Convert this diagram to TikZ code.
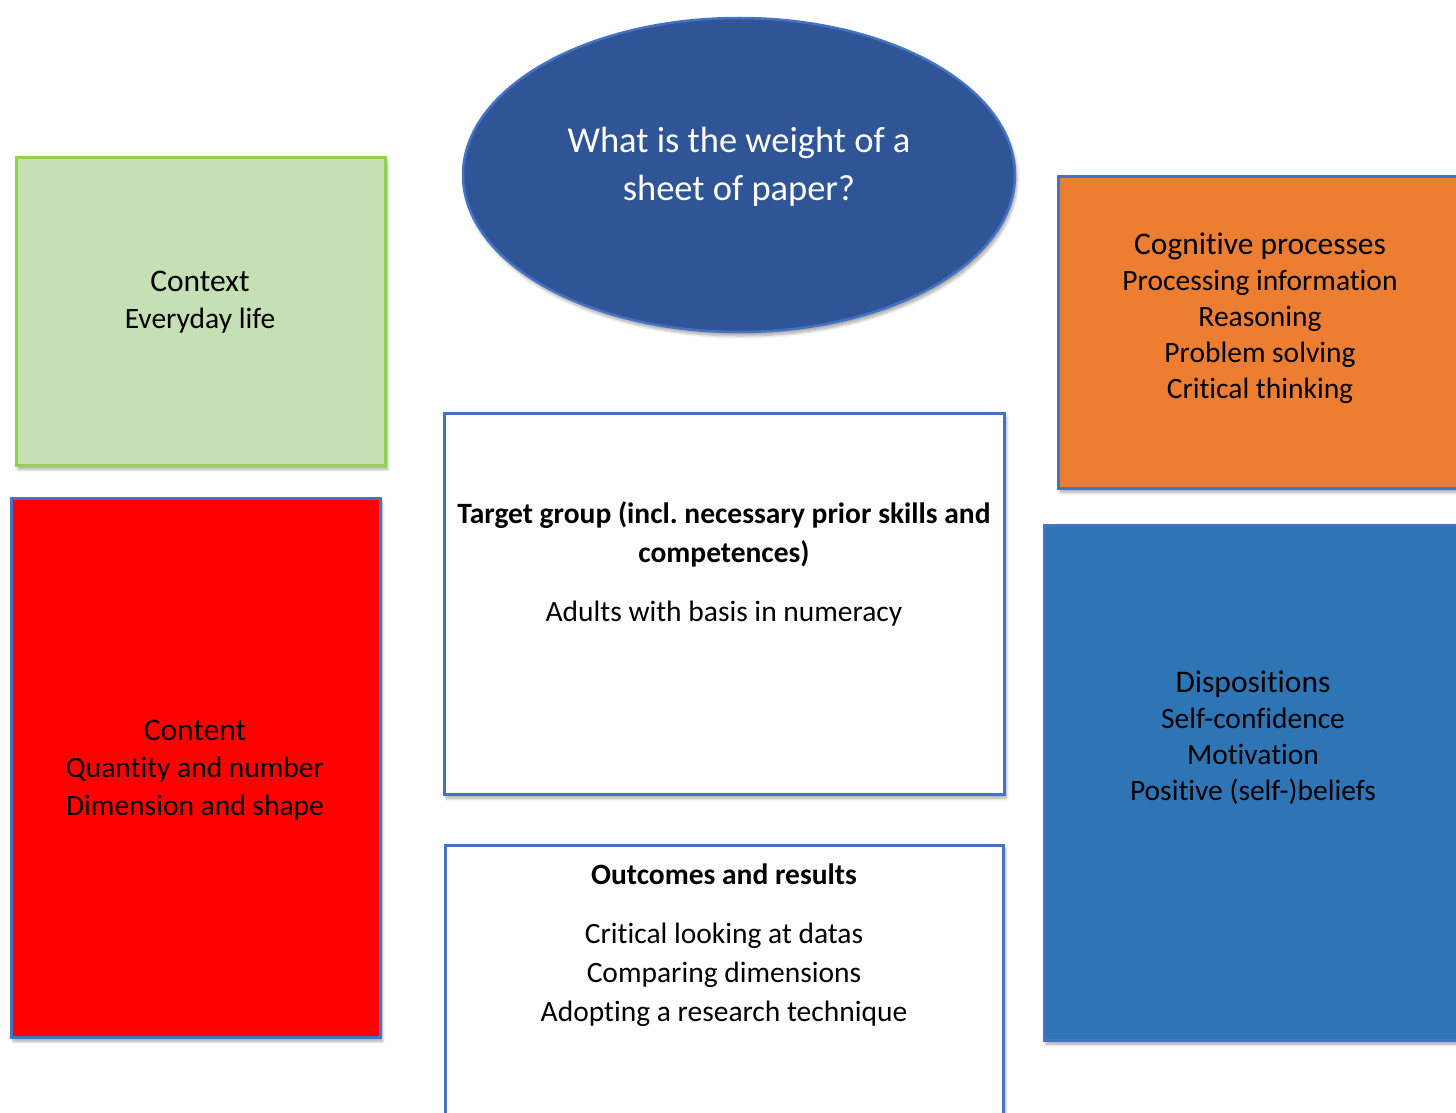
\documentclass[tikz,border=0pt]{standalone}
\usepackage{fontspec}
\setmainfont{Carlito}[Ligatures={NoCommon}]
\usetikzlibrary{shapes.geometric,shadows.blur}
\definecolor{bordblue}{HTML}{4472C4}
\definecolor{greenfill}{HTML}{C5E0B4}
\definecolor{greenbord}{HTML}{92D050}
\definecolor{ellfill}{HTML}{2F5597}
\definecolor{orangefill}{HTML}{ED7D31}
\definecolor{bluefill}{HTML}{2E75B6}
\tikzset{
  box/.style={draw=bordblue, line width=2.5pt, rectangle, anchor=north west, inner sep=0pt,
    blur shadow={shadow xshift=2pt, shadow yshift=-4pt, shadow blur steps=6, shadow opacity=35, shadow blur radius=3pt}},
  head/.style={font=\fontsize{31.5}{38}\selectfont, anchor=mid, inner sep=0pt},
  body/.style={font=\fontsize{29.5}{36}\selectfont, anchor=mid, inner sep=0pt},
  bbody/.style={font=\fontsize{29.5}{36}\selectfont\bfseries, anchor=mid, inner sep=0pt},
  etext/.style={font=\fontsize{36.5}{44}\selectfont, text=white, anchor=mid, inner sep=0pt}
}
\frenchspacing
\begin{document}
\begin{tikzpicture}[x=1pt,y=-1pt]
\useasboundingbox (0,0) rectangle (1456,1113);
\clip (0,0) rectangle (1456,1113);
% boxes
\node[box, draw=greenbord, fill=greenfill, minimum width=369pt, minimum height=308pt] (context) at (15,156) {};
\node[box, fill=red, minimum width=369pt, minimum height=539pt] (content) at (10,497) {};
\node[box, fill=orangefill, minimum width=420pt, minimum height=312pt] (cogn) at (1057,175) {};
\node[box, fill=bluefill, minimum width=430pt, minimum height=515pt] (disp) at (1043,524) {};
\node[box, fill=white, minimum width=560pt, minimum height=381pt] (target) at (443,412) {};
\node[box, fill=white, minimum width=558pt, minimum height=300pt] (outc) at (444,844) {};
\node[ellipse, draw=bordblue, line width=2.5pt, fill=ellfill, minimum width=552pt, minimum height=314pt, inner sep=0pt,
  blur shadow={shadow xshift=2pt, shadow yshift=-4pt, shadow blur steps=6, shadow opacity=35, shadow blur radius=3pt}] (question) at (739,175) {};
% ellipse text
\node[etext] (q1) at (739,150) {What is the weight of a};
\node[etext] (q2) at (739,198) {sheet of paper?};
% context
\node[head] (ctx1) at (200,289) {Context};
\node[body] (ctx2) at (200,326) {Everyday life};
% content
\node[head] (cnt1) at (195,738) {Content};
\node[body] (cnt2) at (195,775) {Quantity and number};
\node[body] (cnt3) at (195,813) {Dimension and shape};
% cognitive
\node[head] (cog1) at (1260,252) {Cognitive processes};
\node[body] (cog2) at (1260,288) {Processing information};
\node[body] (cog3) at (1260,324) {Reasoning};
\node[body] (cog4) at (1260,360) {Problem solving};
\node[body] (cog5) at (1260,396) {Critical thinking};
% dispositions
\node[head] (dis1) at (1253,690) {Dispositions};
\node[body] (dis2) at (1253,726) {Self-confidence};
\node[body] (dis3) at (1253,762) {Motivation};
\node[body] (dis4) at (1253,798) {Positive (self-)beliefs};
% target group
\node[bbody] (tg1) at (724,521) {Target group (incl. necessary prior skills and};
\node[bbody] (tg2) at (724,560) {competences)};
\node[body] (tg3) at (724,619) {Adults with basis in numeracy};
% outcomes
\node[bbody] (oc1) at (724,882) {Outcomes and results};
\node[body] (oc2) at (724,941) {Critical looking at datas};
\node[body] (oc3) at (724,980) {Comparing dimensions};
\node[body] (oc4) at (724,1019) {Adopting a research technique};
\end{tikzpicture}
\end{document}
